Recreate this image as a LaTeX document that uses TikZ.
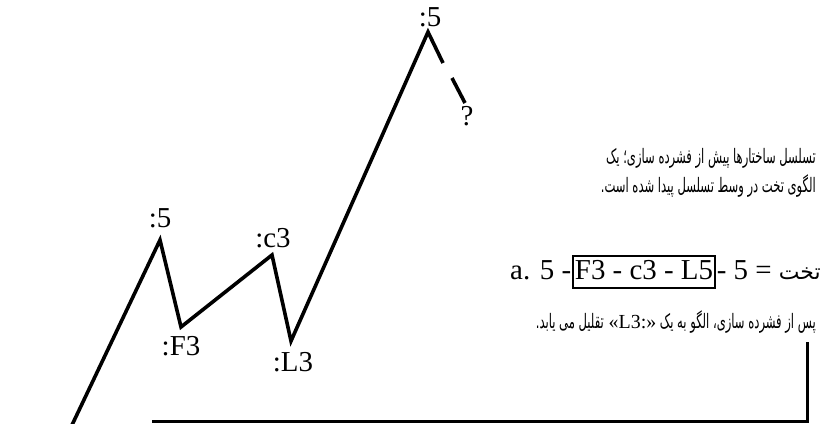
\documentclass[tikz,border=0pt]{standalone}
\usepackage{fontspec}
\setmainfont{Liberation Serif}
\newfontfamily\farsifont[Script=Arabic, FakeStretch=0.58]{DejaVu Sans}
\newfontfamily\farsiwide[Script=Arabic]{DejaVu Sans}
\TeXXeTstate=1
\usetikzlibrary{positioning}

\begin{document}
\begin{tikzpicture}[x=1bp, y=-1bp,
    wave/.style={line width=3.6bp, line join=miter},
    bracket/.style={line width=3bp, line join=miter},
    tick/.style={font=\fontsize{29}{32}\selectfont, inner sep=0pt},
    farsi/.style={font=\farsifont\fontsize{20}{23}\selectfont, anchor=east, inner sep=0pt},
    eq/.style={font=\fontsize{29}{32}\selectfont, inner sep=0pt, text height=20bp, text depth=6bp},
    node distance=0bp
]
    \useasboundingbox (0,0) rectangle (834,423);

    % wave points
    \coordinate (w0) at (72,425);
    \coordinate (p5) at (160,240);
    \coordinate (f3) at (181,327);
    \coordinate (c3) at (272,255);
    \coordinate (l3) at (291,341);
    \coordinate (top) at (428,32);
    \coordinate (d1) at (443,63);
    \coordinate (d2) at (452,78);
    \coordinate (d3) at (465,103);

    \draw[wave] (w0) -- (p5) -- (f3) -- (c3) -- (l3) -- (top) -- (d1);
    \draw[wave] (d2) -- (d3);

    \node[tick] (lp5) at (160,218) {:5};
    \node[tick] (lf3) at (181,346) {:F3};
    \node[tick] (lc3) at (273,238) {:c3};
    \node[tick] (ll3) at (293,362) {:L3};
    \node[tick] (ltop) at (430,17) {:5};
    \node[tick] (lq) at (467,116) {?};

    % notes
    \node[farsi] (t1) at (816,158) {\beginR تسلسل ساختارها پیش از فشرده سازی؛ یک\endR};
    \node[farsi] (t2) at (816,186) {\beginR الگوی تخت در وسط تسلسل پیدا شده است.\endR};

    \node[eq, anchor=west] (eqa) at (510,272) {a. 5 -};
    \node[eq, draw, line width=1.2bp, inner xsep=2bp, inner ysep=3bp, right=1bp of eqa] (eqbox) {F3 - c3 - L5};
    \node[eq, right=1bp of eqbox] (eqc) {- 5 = {\farsiwide\fontsize{22}{26}\selectfont تخت}};

    \node[farsi] (t4) at (816,322) {\beginR پس از فشرده سازی، الگو به یک \beginL{\rmfamily «L3:»}\endL{} تقلیل می یابد.\endR};

    \coordinate (b0) at (152,421);
    \coordinate (b1) at (807,421);
    \coordinate (b2) at (807,342);
    \draw[bracket] (b0) -- (b1) -- (b2);
\end{tikzpicture}
\end{document}
